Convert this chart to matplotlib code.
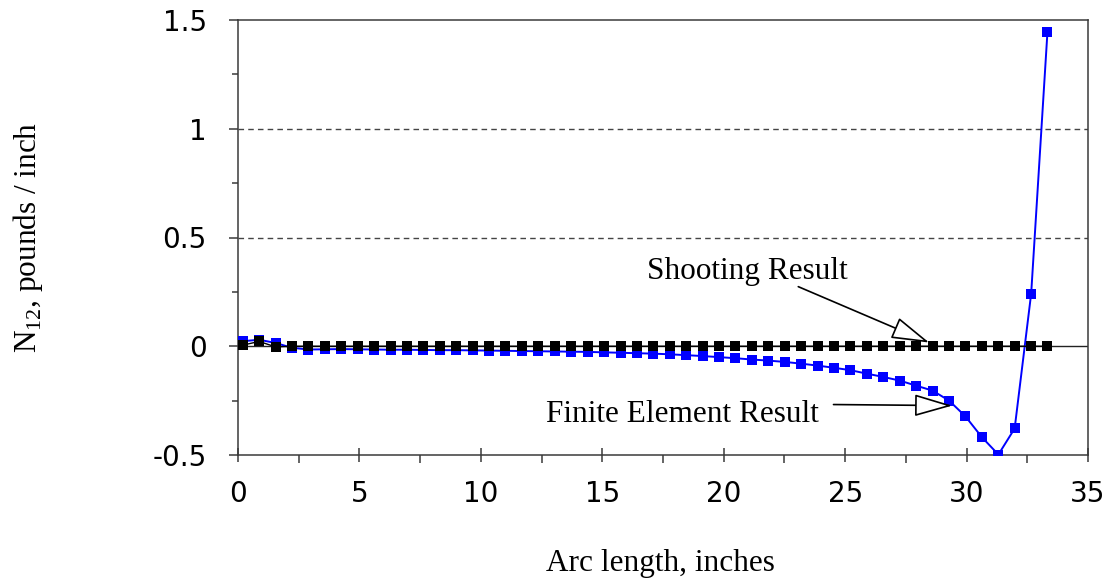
import matplotlib.pyplot as plt
from matplotlib.ticker import MultipleLocator

# Arc length positions of the element results (inches)
arc_length = [0.19, 0.87, 1.55, 2.22, 2.90, 3.57, 4.25, 4.93, 5.60, 6.28,
              6.96, 7.63, 8.31, 8.99, 9.66, 10.34, 11.01, 11.69, 12.37, 13.04,
              13.72, 14.40, 15.07, 15.75, 16.43, 17.10, 17.78, 18.45, 19.13, 19.81,
              20.48, 21.16, 21.84, 22.51, 23.19, 23.87, 24.54, 25.22, 25.89, 26.57,
              27.25, 27.92, 28.60, 29.28, 29.95, 30.63, 31.31, 31.98, 32.66, 33.33]

# N12 from the finite element model (pounds / inch)
n12_fem = [0.023, 0.030, 0.015, -0.007, -0.015, -0.014, -0.013, -0.014, -0.015, -0.016,
           -0.016, -0.017, -0.018, -0.018, -0.019, -0.020, -0.021, -0.022, -0.023, -0.024,
           -0.025, -0.026, -0.028, -0.030, -0.032, -0.034, -0.037, -0.041, -0.045, -0.050,
           -0.055, -0.061, -0.066, -0.072, -0.080, -0.089, -0.099, -0.110, -0.126, -0.141,
           -0.158, -0.181, -0.204, -0.250, -0.322, -0.418, -0.498, -0.378, 0.242, 1.444]

# N12 from the shooting method (pounds / inch)
n12_shoot = [0.005, 0.022, -0.003, 0.0, 0.0, 0.0, 0.0, 0.0, 0.0, 0.0,
             0.0, 0.0, 0.0, 0.0, 0.0, 0.0, 0.0, 0.0, 0.0, 0.0,
             0.0, 0.0, 0.0, 0.0, 0.0, 0.0, 0.0, 0.0, 0.0, 0.0,
             0.0, 0.0, 0.0, 0.0, 0.0, 0.0, 0.0, 0.0, 0.0, 0.0,
             0.0, 0.0, 0.0, 0.0, 0.0, 0.0, 0.0, 0.0, 0.0, 0.0]

plt.rcParams['mathtext.fontset'] = 'custom'
plt.rcParams['mathtext.rm'] = 'Liberation Serif'

fig = plt.figure(figsize=(11.07, 5.78), dpi=100)
ax = fig.add_axes([238 / 1107, 1 - 455 / 578, 850 / 1107, 435 / 578])

edge = '#3a3a3a'

# reference lines: dashed grid at 0.5 and 1, solid zero line
for yv in (0.5, 1.0):
    ax.axhline(yv, color='#444444', linestyle=(0, (4, 3)), linewidth=1.0, zorder=1)
ax.axhline(0, color='#222222', linewidth=1.0, zorder=1)

ax.plot(arc_length, n12_fem, color='#0000ff', linewidth=1.4, marker='s',
        markersize=6.5, markeredgewidth=0, zorder=3)
ax.plot(arc_length, n12_shoot, color='black', linewidth=1.0, marker='s',
        markersize=6.5, markeredgewidth=0, zorder=4)

ax.set_xlim(0, 35)
ax.set_ylim(-0.5, 1.5)
ax.xaxis.set_major_locator(MultipleLocator(5))
ax.xaxis.set_minor_locator(MultipleLocator(2.5))
ax.yaxis.set_minor_locator(MultipleLocator(0.25))
ax.set_yticks([-0.5, 0, 0.5, 1, 1.5])
ax.set_yticklabels(['-0.5', '0', '0.5', '1', '1.5'])

for sp in ax.spines.values():
    sp.set_color(edge)
    sp.set_linewidth(1.1)

ax.tick_params(axis='x', which='major', direction='inout', length=10, width=1.1,
               color=edge, labelsize=20, pad=13)
ax.tick_params(axis='x', which='minor', direction='out', length=5.5, width=1.1, color=edge)
ax.tick_params(axis='y', which='major', direction='out', length=6.5, width=1.1,
               color=edge, labelsize=20, pad=16)
ax.tick_params(axis='y', which='minor', direction='out', length=4.3, width=1.1, color=edge)
for lbl in ax.get_xticklabels() + ax.get_yticklabels():
    lbl.set_family('DejaVu Sans')

# annotations with open arrowheads
arrow = dict(arrowstyle='-|>,head_length=1.2,head_width=0.35', fc='white', ec='black',
             lw=1.2, mutation_scale=20, shrinkA=0, shrinkB=0)
ax.text(20.96, 0.343, 'Shooting Result', family='Liberation Serif', fontsize=22.5,
        ha='center', va='center')
ax.annotate('', xy=(28.46, 0.017), xytext=(23.07, 0.274), arrowprops=arrow, zorder=6)
ax.text(18.31, -0.314, 'Finite Element Result', family='Liberation Serif', fontsize=22.5,
        ha='center', va='center')
ax.annotate('', xy=(29.41, -0.273), xytext=(24.52, -0.268), arrowprops=arrow, zorder=6)

fig.text(660 / 1107, 1 - 563 / 578, 'Arc length, inches', family='Liberation Serif',
         fontsize=22.5, ha='center', va='center')
fig.text(28 / 1107, 1 - 237 / 578, r'N$_{\mathrm{12}}$, pounds / inch',
         family='Liberation Serif', fontsize=22.5, rotation=90, ha='center', va='center')

fig.savefig('out.png', dpi=100)
